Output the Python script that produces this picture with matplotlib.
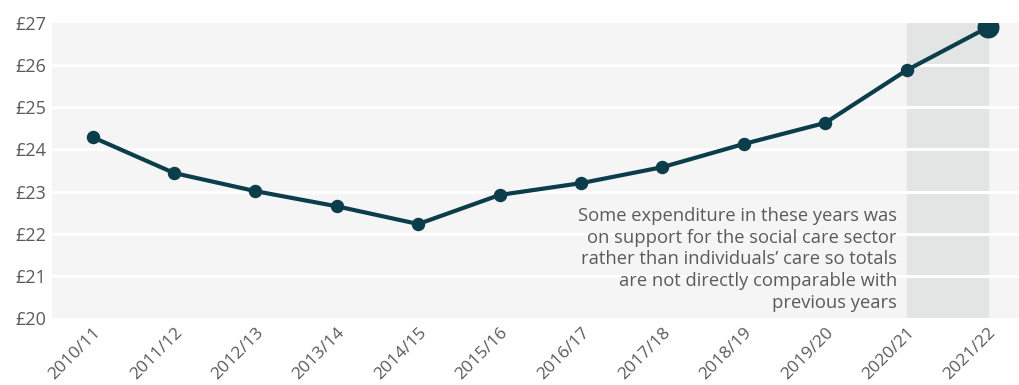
import matplotlib.pyplot as plt

years = ["2010/11", "2011/12", "2012/13", "2013/14", "2014/15", "2015/16",
         "2016/17", "2017/18", "2018/19", "2019/20", "2020/21", "2021/22"]
spend = [24.29, 23.44, 23.01, 22.65, 22.23, 22.92,
         23.20, 23.58, 24.13, 24.63, 25.88, 26.90]
y_ticks = [20, 21, 22, 23, 24, 25, 26, 27]
note = ("Some expenditure in these years was\n"
        "on support for the social care sector\n"
        "rather than individuals\u2019 care so totals\n"
        "are not directly comparable with\n"
        "previous years")

line_col = "#0b3d4a"
text_col = "#5a5a5a"

plt.rcParams['font.family'] = ['Open Sans', 'DejaVu Sans']

fig = plt.figure(figsize=(10.19, 3.85), dpi=100)
ax = fig.add_axes([52 / 1019, 1 - 318 / 385, 1 - 52 / 1019, 295 / 385])
ax.set_facecolor("#f5f5f5")

x = list(range(len(years)))
ax.set_xlim(-0.5, 11.38)
ax.set_ylim(20, 27)

# shaded band for the covid years
ax.axvspan(x[-2], x[-1], color="#e3e5e5", zorder=1)

for v in y_ticks[1:-1]:
    ax.axhline(v, color="white", lw=2.2, zorder=2)

ax.plot(x, spend, color=line_col, lw=3, zorder=3)
ax.scatter(x[:-1], spend[:-1], s=75, color=line_col, zorder=4)
ax.scatter(x[-1:], spend[-1:], s=220, color=line_col, zorder=4)

ax.text(9.88, 22.64, note, ha="right", va="top", fontsize=13.2,
        color=text_col, linespacing=1.27, zorder=5)

ax.set_xticks(x)
ax.set_xticklabels(years, rotation=45, ha="right", rotation_mode="anchor",
                   fontsize=12.5, color=text_col)
ax.set_yticks(y_ticks)
ax.set_yticklabels(["\u00a3%d" % v for v in y_ticks], fontsize=13, color=text_col)
ax.tick_params(length=0, pad=4)
ax.tick_params(axis="x", pad=5)
for s in ax.spines.values():
    s.set_visible(False)

fig.savefig("out.png", dpi=100, facecolor="white")
